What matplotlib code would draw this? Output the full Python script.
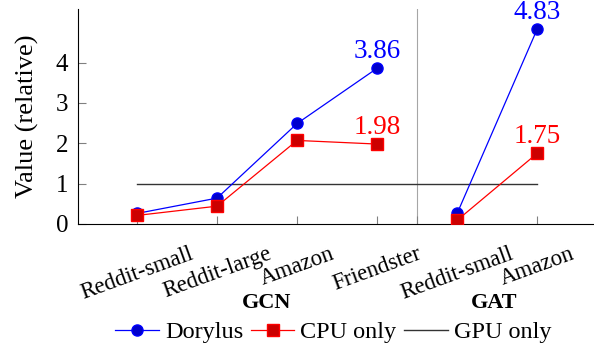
import numpy as np
import matplotlib
matplotlib.use("Agg")
import matplotlib.pyplot as plt
from matplotlib.lines import Line2D

plt.rcParams['font.family'] = ['Liberation Serif', 'DejaVu Serif']

# datasets per model (GCN then GAT)
labels = ["Reddit-small", "Reddit-large", "Amazon", "Friendster", "Reddit-small", "Amazon"]
gcn_pos = [1, 2, 3, 4]
gat_pos = [5, 6]
dorylus_gcn = [0.26, 0.64, 2.49, 3.86]
dorylus_gat = [0.26, 4.83]
cpu_gcn = [0.21, 0.44, 2.07, 1.98]
cpu_gat = [0.09, 1.75]
gpu_level = 1.0

blue = (0, 0, 1)
red = (1, 0, 0)

fig = plt.figure(figsize=(5.94, 3.45), dpi=100)
ax = fig.add_axes([0.131, 0.351, 0.869, 0.623])

# separator between GCN and GAT
ax.axvline(4.5, color="0.65", lw=0.8, zorder=1)

ax.plot([gcn_pos[0], gat_pos[-1]], [gpu_level, gpu_level], color="0.2", lw=1.0, zorder=2)

for pos, d in [(gcn_pos, dorylus_gcn), (gat_pos, dorylus_gat)]:
    ax.plot(pos, d, color=blue, lw=0.9, marker="o", ms=8, mfc=(0, 0, 0.8), mec=blue, zorder=3)
for pos, c in [(gcn_pos, cpu_gcn), (gat_pos, cpu_gat)]:
    ax.plot(pos, c, color=red, lw=0.9, marker="s", ms=8, mfc=(0.8, 0, 0), mec=red, zorder=4)

# value labels on the last point of each group
for x, y, col in [(gcn_pos[-1], dorylus_gcn[-1], blue), (gcn_pos[-1], cpu_gcn[-1], red),
                  (gat_pos[-1], dorylus_gat[-1], blue), (gat_pos[-1], cpu_gat[-1], red)]:
    ax.annotate(f"{y:.2f}", (x, y), xytext=(0, 7.5), textcoords="offset points",
                ha="center", va="baseline", color=col, fontsize=19.5)

ax.set_xlim(0.26, 6.71)
ax.set_ylim(0, 5.33)
ax.set_yticks([0, 1, 2, 3, 4])
ax.set_xticks(gcn_pos + [4.5] + gat_pos)
ax.set_xticklabels(labels[:4] + [""] + labels[4:], rotation=20, fontsize=16.5)
ax.tick_params(axis="y", labelsize=18, direction="in", color="0.5", length=6, pad=7)
ax.tick_params(axis="x", direction="in", color="0.5", length=6, pad=14)
ax.set_ylabel("Value (relative)", fontsize=19, labelpad=12)
ax.spines["top"].set_visible(False)
ax.spines["right"].set_visible(False)

ax.text(2.62, -0.37, "GCN", transform=ax.get_xaxis_transform(), ha="center", va="center",
        fontsize=16, fontweight="bold")
ax.text(5.46, -0.37, "GAT", transform=ax.get_xaxis_transform(), ha="center", va="center",
        fontsize=16, fontweight="bold")

# legend entries
handles = [Line2D([], [], color=blue, lw=0.9, marker="o", ms=8, mfc=(0, 0, 0.8), mec=blue),
           Line2D([], [], color=red, lw=0.9, marker="s", ms=8, mfc=(0.8, 0, 0), mec=red),
           Line2D([], [], color="0.2", lw=1.0)]
fig.legend(handles, ["Dorylus", "CPU only", "GPU only"], loc="center", bbox_to_anchor=(0.561, 0.037),
           ncol=3, frameon=False, fontsize=17.5, handlelength=1.8, handletextpad=0.25,
           columnspacing=0.3, borderpad=0, borderaxespad=0)

fig.savefig("out.png", dpi=100)
